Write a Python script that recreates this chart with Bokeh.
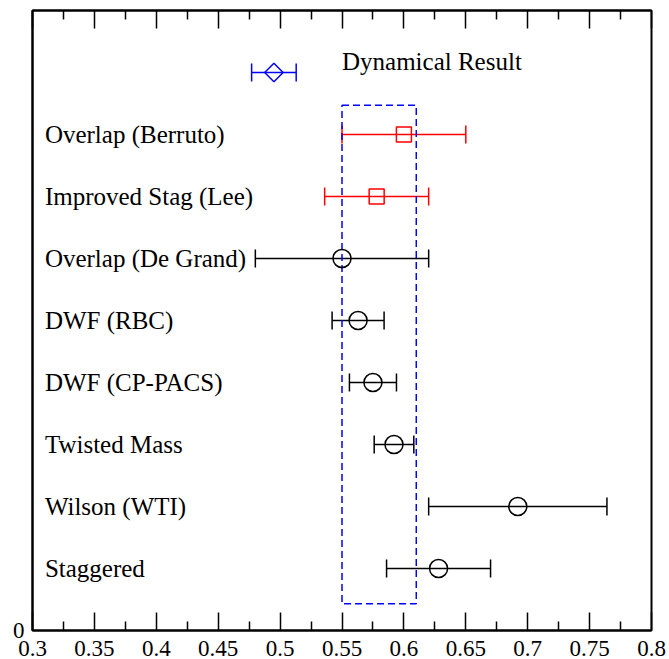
from bokeh.plotting import figure
from bokeh.models import (ColumnDataSource, Whisker, TeeHead, LinearAxis, FixedTicker,
                          PrintfTickFormatter, CustomJSTickFormatter, Range1d)
from bokeh.core.properties import value
from bokeh.embed import file_html
from bokeh.resources import INLINE

# ---- data ----
labels = ["Staggered", "Wilson (WTI)", "Twisted Mass", "DWF (CP-PACS)", "DWF (RBC)",
          "Overlap (De Grand)", "Improved Stag (Lee)", "Overlap (Berruto)"]
rows = [1, 2, 3, 4, 5, 6, 7, 8]
values = [0.628, 0.692, 0.592, 0.575, 0.563, 0.550, 0.578, 0.600]
errors = [0.042, 0.072, 0.016, 0.019, 0.021, 0.070, 0.042, 0.050]
groups = ["quenched", "quenched", "quenched", "quenched", "quenched", "quenched", "improved", "improved"]

dyn_label = "Dynamical Result"
dyn_row = 9
dyn_label_row = 9.17
dyn_value = 0.495
dyn_error = 0.018

band_x = [0.55, 0.61]
band_y = [0.43, 8.47]

x_ticks = [0.3, 0.35, 0.4, 0.45, 0.5, 0.55, 0.6, 0.65, 0.7, 0.75, 0.8]
x_minor = [0.325, 0.375, 0.425, 0.475, 0.525, 0.575, 0.625, 0.675, 0.725, 0.775]
y_ticks = [0]

label_x = 0.31
dyn_label_x = 0.55

FONT = "Liberation Serif"

p = figure(width=669, height=659, x_range=Range1d(0.3, 0.8), y_range=Range1d(0, 10),
           output_backend="svg", toolbar_location=None,
           min_border_left=32, min_border_right=18, min_border_top=10, min_border_bottom=29,
           x_axis_location=None, y_axis_location=None)
p.grid.visible = False
p.outline_line_color = "black"
p.outline_line_width = 2
p.background_fill_color = "white"
p.border_fill_color = "white"

ticker = FixedTicker(ticks=x_ticks, minor_ticks=x_minor)
xb = LinearAxis(ticker=ticker, formatter=PrintfTickFormatter(format="%g"))
xb.major_tick_in = 18
xb.major_tick_out = 0
xb.minor_tick_in = 9
xb.minor_tick_out = 0
xb.major_tick_line_width = 1.5
xb.minor_tick_line_width = 1.5
xb.axis_line_width = 2
xb.major_label_standoff = 10
xb.major_label_text_font = FONT
xb.major_label_text_font_size = "23px"
xb.major_label_text_color = "black"
p.add_layout(xb, "below")

xt = LinearAxis(ticker=ticker, formatter=CustomJSTickFormatter(code="return ''"))
xt.major_tick_in = 18
xt.major_tick_out = 0
xt.minor_tick_in = 9
xt.minor_tick_out = 0
xt.major_tick_line_width = 1.5
xt.minor_tick_line_width = 1.5
xt.axis_line_width = 2
xt.major_label_standoff = 0
p.add_layout(xt, "above")

yl = LinearAxis(ticker=FixedTicker(ticks=y_ticks, minor_ticks=[]))
yl.major_tick_in = 0
yl.major_tick_out = 0
yl.axis_line_width = 2
yl.major_label_standoff = 8
yl.major_label_text_font = FONT
yl.major_label_text_font_size = "23px"
yl.major_label_text_color = "black"
p.add_layout(yl, "left")

# band
p.quad(left=[band_x[0]], right=[band_x[1]], bottom=[band_y[0]], top=[band_y[1]],
       fill_color=None, line_color="#0000ff", line_width=1.5, line_dash="7 4")

def add_group(xs, ys, errs, color, marker, size, angle=0.0):
    src = ColumnDataSource(dict(x=xs, y=ys,
                                lo=[a - e for a, e in zip(xs, errs)],
                                hi=[a + e for a, e in zip(xs, errs)]))
    w = Whisker(source=src, base="y", lower="lo", upper="hi", dimension="width",
                line_color=color, line_width=1.5,
                upper_head=TeeHead(size=18, line_color=color, line_width=1.5),
                lower_head=TeeHead(size=18, line_color=color, line_width=1.5))
    p.add_layout(w)
    p.scatter("x", "y", source=src, marker=marker, size=size, angle=angle,
              fill_color=None, line_color=color, line_width=1.5)

qx = [v for v, g in zip(values, groups) if g == "quenched"]
qy = [r for r, g in zip(rows, groups) if g == "quenched"]
qe = [e for e, g in zip(errors, groups) if g == "quenched"]
ix = [v for v, g in zip(values, groups) if g == "improved"]
iy = [r for r, g in zip(rows, groups) if g == "improved"]
ie = [e for e, g in zip(errors, groups) if g == "improved"]

add_group(qx, qy, qe, "black", "circle", 18)
add_group(ix, iy, ie, "#ff0000", "square", 15)
add_group([dyn_value], [dyn_row], [dyn_error], "#0000ff", "square", 13, angle=0.7854)

p.text(x=[label_x] * len(labels), y=rows, text=labels, text_font=value(FONT),
       text_font_size="25px", text_baseline="middle", text_align="left", text_color="black")
p.text(x=[dyn_label_x], y=[dyn_label_row], text=[dyn_label], text_font=value(FONT),
       text_font_size="25px", text_baseline="middle", text_align="left", text_color="black")

open("out.html", "w").write(file_html(p, INLINE))
